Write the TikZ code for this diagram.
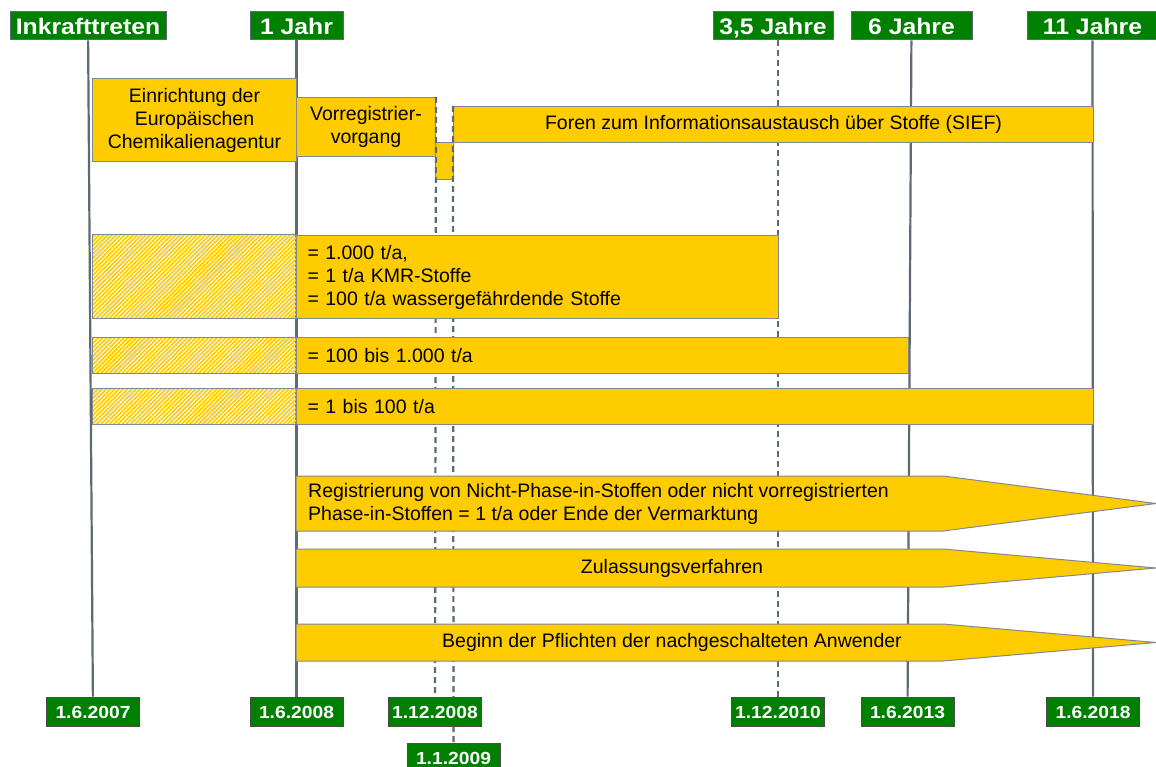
\documentclass[tikz,border=0pt]{standalone}
\usepackage{fontspec}
\setmainfont{Liberation Sans}
\newfontfamily\labelfont[FakeStretch=1.1]{Liberation Sans}
\usetikzlibrary{patterns.meta}
\definecolor{reachyellow}{RGB}{255,204,0}
\definecolor{reachgreen}{RGB}{0,128,0}
\definecolor{linegrey}{RGB}{92,106,118}
\definecolor{edgegrey}{RGB}{128,136,144}
\pgfdeclarelayer{lines}
\pgfdeclarelayer{tops}
\pgfdeclarelayer{marks}
\pgfsetlayers{lines,tops,marks,main}

\begin{document}
\begin{tikzpicture}[x=1pt,y=-1pt,
   head/.style={fill=reachgreen,draw=linegrey,line width=1pt,text=white,inner sep=0pt,minimum height=28pt,text height=16.5pt,text depth=0pt,font=\labelfont\bfseries\fontsize{22.5}{26}\selectfont},
   datebox/.style={fill=reachgreen,draw=black!70,line width=1pt,text=white,inner sep=0pt,minimum width=93pt,minimum height=29pt,text height=13pt,text depth=0pt,font=\labelfont\bfseries\fontsize{17.5}{20}\selectfont},
   fillbox/.style={fill=reachyellow,draw=edgegrey,line width=1pt},
   bar/.style={fillbox,inner sep=0pt,anchor=north west,font=\fontsize{19.5}{23}\selectfont},
   txt/.style={inner sep=0pt,font=\fontsize{19.5}{23}\selectfont},
   hatch/.style={draw=edgegrey,line width=1pt,pattern={Lines[angle=45,distance=3pt,line width=1.8pt]},pattern color=reachyellow},
   yearline/.style={draw=linegrey,line width=2.2pt},
   dashline/.style={yearline,dash pattern=on 6pt off 4pt}]

   \useasboundingbox (0,0) rectangle (1156,767);
   \clip (0,0) rectangle (1156,767);

   \node[head,minimum width=156pt] (hStart) at (88,26) {Inkrafttreten};
   \node[head,minimum width=93pt] (hOne) at (296.5,26) {1 Jahr};
   \node[head,minimum width=120pt] (hThreeHalf) at (773,26) {3,5 Jahre};
   \node[head,minimum width=121pt] (hSix) at (911.5,26) {6 Jahre};
   \node[head,minimum width=131pt] (hEleven) at (1092.5,26) {11 Jahre};

   \node[datebox] (d2007) at (93,711.5) {1.6.2007};
   \node[datebox] (d2008) at (296.5,711.5) {1.6.2008};
   \node[datebox] (d1208) at (435,711.5) {1.12.2008};
   \node[datebox] (d0109) at (453.5,757.5) {1.1.2009};
   \node[datebox] (d2010) at (778,711.5) {1.12.2010};
   \node[datebox] (d2013) at (907.5,711.5) {1.6.2013};
   \node[datebox] (d2018) at (1093,711.5) {1.6.2018};

   \begin{pgfonlayer}{tops}
   \node[bar,minimum width=204pt,minimum height=83pt,align=center] (agency) at (92,78) {Einrichtung der\\Europäischen\\Chemikalienagentur};
   \node[bar,minimum width=139pt,minimum height=59pt,align=center] (prereg) at (296,97) {Vorregistrier-\\vorgang};
   \node[bar,minimum width=18pt,minimum height=37pt] (gap) at (435,142) {};
   \node[bar,minimum width=640pt,minimum height=36pt] (sief) at (453,106) {Foren zum Informationsaustausch über Stoffe (SIEF)};
   \end{pgfonlayer}

   \begin{pgfonlayer}{lines}
   \draw[yearline] (hStart) -- (d2007);
   \draw[yearline] (hOne) -- (d2008);
   \draw[yearline] (hSix) -- (d2013);
   \draw[yearline] (hEleven) -- (d2018);
   \draw[dashline] (d2010.north |- hThreeHalf.south) -- (d2010.north);
   \end{pgfonlayer}

   \begin{pgfonlayer}{marks}
   \draw[dashline] (prereg.north east) -- (d1208.north);
   \draw[dashline] (sief.north west) -- (d0109.north);
   \end{pgfonlayer}

   \draw[hatch] (92,235) rectangle (296,318);
   \node[bar,minimum width=482pt,minimum height=83pt,text width=460pt,inner xsep=11pt,align=left] (tier1) at (296,235) {= 1.000 t/a,\\= 1 t/a KMR-Stoffe\\= 100 t/a wassergefährdende Stoffe};
   \draw[hatch] (92,337) rectangle (296,373);
   \node[bar,minimum width=612pt,minimum height=36pt,text width=590pt,inner xsep=11pt,align=left] (tier2) at (296,337) {= 100 bis 1.000 t/a};
   \draw[hatch] (92,388) rectangle (296,424);
   \node[bar,minimum width=797pt,minimum height=36pt,text width=775pt,inner xsep=11pt,align=left] (tier3) at (296,388) {= 1 bis 100 t/a};

   \draw[fillbox] (296,476) -- (943,476) -- (1156,503.5) -- (943,531) -- (296,531) -- cycle;
   \node[txt,anchor=west,align=left] (newreg) at (308,503.5) {Registrierung von Nicht-Phase-in-Stoffen oder nicht vorregistrierten\\Phase-in-Stoffen = 1 t/a oder Ende der Vermarktung};
   \draw[fillbox] (296,549) -- (943,549) -- (1156,568) -- (943,587) -- (296,587) -- cycle;
   \node[txt] (approval) at (672,568) {Zulassungsverfahren};
   \draw[fillbox] (296,624) -- (943,624) -- (1156,642.5) -- (943,661) -- (296,661) -- cycle;
   \node[txt] (downstream) at (672,642.5) {Beginn der Pflichten der nachgeschalteten Anwender};

\end{tikzpicture}
\end{document}
